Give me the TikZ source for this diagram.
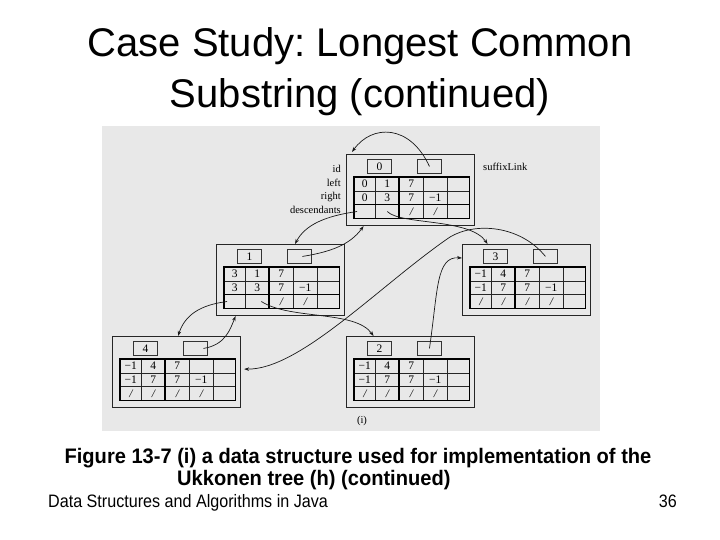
\documentclass[tikz,border=0pt]{standalone}
\usepackage{fontspec}
\setmainfont{Liberation Sans}
\newfontfamily\figfont{Liberation Serif}
\usetikzlibrary{arrows.meta}
\definecolor{panel}{HTML}{E8E8E8}
\newcommand\nl{{\itshape/}}
\frenchspacing
\tikzset{
 frame/.style={draw=black!85, line width=1.1pt, minimum width=128pt, minimum height=71pt, inner sep=0pt, anchor=north west},
 idbox/.style={draw=black!80, line width=0.9pt, minimum width=24pt, minimum height=14pt, inner sep=0pt, anchor=north west, font=\figfont\fontsize{11.5}{12}\selectfont},
 cell/.style={draw=black!85, line width=0.7pt, minimum height=13.67pt, inner sep=0pt, anchor=north west, font=\figfont\fontsize{11.5}{12}\selectfont},
 lbl/.style={inner sep=0pt, font=\figfont\fontsize{10.5}{11}\selectfont},
 link/.style={-{Stealth[length=5pt,width=3.5pt]}, line width=0.7pt, black!90},
 ttl/.style={anchor=base, inner sep=0pt, font=\fontsize{40}{46}\selectfont},
}
\newcommand\tablerow[4]{%
 \foreach \v [count=\i] in {#4} {
   \pgfmathsetmacro\cx{{8,29,53,77,101}[\i-1]}
   \pgfmathsetmacro\cw{{21,24,24,24,22}[\i-1]}
   \node[cell, minimum width=\cw pt] (#1-#2\i) at (\cx,#3) {\v};
 }}
\newcommand\tnode[7]{%
 \begin{scope}[shift={(#2,#3)}]
  \node[frame] (#1) at (0,0) {};
  \node[idbox] (#1-id) at (21,5) {#4};
  \node[idbox] (#1-link) at (71,5) {};
  \tablerow{#1}{1}{23}{#5}
  \tablerow{#1}{2}{36.67}{#6}
  \tablerow{#1}{3}{50.33}{#7}
  \draw[line width=1.2pt] (#1-11.north west) rectangle (#1-35.south east);
  \draw[line width=1.2pt] (#1-13.north west) -- (#1-33.south west);
 \end{scope}}
\begin{document}
\begin{tikzpicture}[x=1pt,y=-1pt]
\fill[white] (0,0) rectangle (720,540);
\useasboundingbox (0,0) rectangle (720,540);
% title
\node[ttl] (t1) at (360,57) {Case Study: Longest Common};
\node[ttl] (t2) at (360,108) {Substring (continued)};
% panel
\fill[panel] (102,126) rectangle (600,431);
% nodes
\tnode{n0}{346}{154}{0}{0,1,7,{},{}}{0,3,7,−1,{}}{{},{},\nl,\nl,{}}
\draw[line width=1.2pt] (n0-31.north west) -- (n0-35.north east);
\tnode{n1}{216}{244}{1}{3,1,7,{},{}}{3,3,7,−1,{}}{{},{},\nl,\nl,{}}
\draw[line width=1.2pt] (n1-31.north west) -- (n1-35.north east);
\tnode{n3}{462}{244}{3}{−1,4,7,{},{}}{−1,7,7,−1,{}}{\nl,\nl,\nl,\nl,{}}
\tnode{n4}{112}{336}{4}{−1,4,7,{},{}}{−1,7,7,−1,{}}{\nl,\nl,\nl,\nl,{}}
\tnode{n2}{346}{336}{2}{−1,4,7,{},{}}{−1,7,7,−1,{}}{\nl,\nl,\nl,\nl,{}}
% labels
\node[lbl, anchor=east] (lid) at (341,169) {id};
\node[lbl, anchor=east] (lleft) at (341,182.5) {left};
\node[lbl, anchor=east] (lright) at (341,196.5) {right};
\node[lbl, anchor=east] (ldesc) at (341,210) {descendants};
\node[lbl, anchor=west] (lsuf) at (483,167) {suffixLink};
\node[lbl] (lsub) at (362,421) {(i)};
% connectors
\coordinate (via8) at (450,237);
\draw[link] (n0-link.center) .. controls (410,124) and (372,124) .. ([xshift=6pt,yshift=2pt]n0.north west);
\draw[link] ([xshift=3pt]n0-31.west) .. controls (325,216) and (305,225) .. ([xshift=14.5pt]n1.north);
\draw[link] (n0-32.center) .. controls (400,225) and (470,218) .. ([xshift=-39pt]n3.north);
\draw[link] ([xshift=3pt]n1-link.center) .. controls (330,252) and (350,245) .. ([xshift=-47pt]n0.south);
\draw[link] ([xshift=3pt]n1-31.west) .. controls (200,305) and (185,315) .. ([xshift=1.5pt]n4.north);
\draw[link] ([xshift=4pt]n1-32.center) .. controls (290,320) and (355,310) .. ([xshift=-37pt]n2.north);
\draw[link] ([xshift=8pt]n4-link.center) .. controls (225,345) and (230,330) .. ([xshift=-45pt]n1.south);
\draw[link] (n3-link.center) .. controls (520,225) and (475,222) .. (via8) .. controls (380,285) and (300,370) .. ([xshift=3pt,yshift=3pt]n4.east);
\draw[link] (n2-link.center) .. controls (438,290) and (436,256) .. ([yshift=22pt]n3.west);
% caption and footer
\node[anchor=base, inner sep=0pt, font=\bfseries\fontsize{21}{25}\selectfont] (cap1) at (358,463) {\scalebox{0.956}[1]{Figure 13-7 (i) a data structure used for implementation of the}};
\node[anchor=base west, inner sep=0pt, font=\bfseries\fontsize{21}{25}\selectfont] (cap2) at (177,485) {\scalebox{0.956}[1]{Ukkonen tree (h) (continued)}};
\node[anchor=base west, inner sep=0pt, font=\fontsize{18}{21}\selectfont] (foot) at (48,507) {\scalebox{0.896}[1]{Data Structures and Algorithms in Java}};
\node[anchor=base east, inner sep=0pt, font=\fontsize{18}{21}\selectfont] (page) at (677,507) {\scalebox{0.896}[1]{36}};
\end{tikzpicture}
\end{document}
